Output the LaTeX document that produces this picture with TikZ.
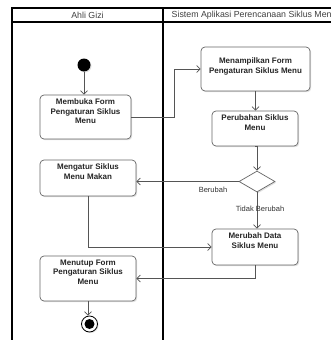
\documentclass[tikz,border=0pt]{standalone}
\usepackage{fontspec}
\setmainfont{Liberation Sans}
\usetikzlibrary{arrows.meta,shapes.geometric,shadows}
\definecolor{edge}{HTML}{555555}
\definecolor{boxline}{HTML}{666666}
\begin{document}
\begin{tikzpicture}[x=1pt,y=-1pt,
  lane/.style={draw=black,line width=1.1pt},
  actbox/.style={draw=boxline,line width=0.7pt,rounded corners=4pt,fill=white,
    drop shadow={opacity=0.25,shadow xshift=1.2pt,shadow yshift=-1.2pt},inner sep=0pt},
  acttxt/.style={anchor=north,align=center,inner sep=0pt,
    font=\bfseries\fontsize{8}{9.5}\selectfont,text=black!85},
  hdr/.style={font=\fontsize{8.8}{10}\selectfont,text=black!75,inner sep=0pt},
  lbl/.style={font=\fontsize{7.5}{9}\selectfont,text=black!80,inner sep=0pt},
  arr/.style={draw=edge,line width=0.7pt,-{Straight Barb[length=3.5pt,width=7pt]}},
  dec/.style={diamond,draw=boxline,line width=0.7pt,fill=white,minimum width=36pt,minimum height=21pt,inner sep=0pt,aspect=1.7,
    drop shadow={opacity=0.25,shadow xshift=1.2pt,shadow yshift=-1.2pt}}]
\useasboundingbox (0,0) rectangle (331,340);
\clip (0,0) rectangle (331,340);
\fill[white] (0,0) rectangle (331,340);
% swimlanes
\draw[lane] (12,345) -- (12,8) -- (340,8);
\draw[lane] (12,22) -- (340,22);
\draw[lane] (163,8) -- (163,345);
\node[hdr] (h1) at (87.5,15.5) {Ahli Gizi};
\node[hdr,anchor=west] (h2) at (171.5,15.5) {Sistem Aplikasi Perencanaan Siklus Menu};
% start
\node[circle,fill=black,minimum size=13pt,inner sep=0pt,drop shadow={opacity=0.25,shadow xshift=1pt,shadow yshift=-1pt}] (start) at (84,65) {};
% boxes
\node[actbox,minimum width=91pt,minimum height=44pt] (b1) at (85.5,117) {};
\node[acttxt] (t1) at ([yshift=-4pt]b1.north) {Membuka Form\\Pengaturan Siklus\\Menu};
\node[actbox,minimum width=109pt,minimum height=44pt] (b2) at (255.5,69) {};
\node[acttxt] (t2) at ([yshift=-11pt]b2.north) {Menampilkan Form\\Pengaturan Siklus Menu};
\node[actbox,minimum width=86pt,minimum height=35pt] (b3) at (255,128.5) {};
\node[acttxt] (t3) at ([yshift=-4pt]b3.north) {Perubahan Siklus\\Menu};
\node[dec] (d) at (257,181.5) {};
\node[actbox,minimum width=96pt,minimum height=36pt] (b4) at (88,178) {};
\node[acttxt] (t4) at ([yshift=-4pt]b4.north) {Mengatur Siklus\\Menu Makan};
\node[actbox,minimum width=86pt,minimum height=36pt] (b5) at (255,247) {};
\node[acttxt] (t5) at ([yshift=-4pt]b5.north) {Merubah Data\\Siklus Menu};
\node[actbox,minimum width=96pt,minimum height=45pt] (b6) at (88,278.5) {};
\node[acttxt] (t6) at ([yshift=-4pt]b6.north) {Menutup Form\\Pengaturan Siklus\\Menu};
% end
\node[circle,draw=black,line width=0.8pt,fill=white,minimum size=16pt,inner sep=0pt,drop shadow={opacity=0.25,shadow xshift=1pt,shadow yshift=-1pt}] (end) at (89.5,324) {};
\node[circle,fill=black,minimum size=10pt,inner sep=0pt] (endin) at (end) {};
% connectors
\draw[arr] (start) -- (start |- b1.north);
\draw[arr] (b1.east) -- ++(43,0) |- (b2.west);
\draw[arr] (b2.south) -- (b2.south |- b3.north);
\draw[arr] (b3.south) -- (b3.south -| d.north) -- (d.north);
\draw[arr] (d.west) -- (d.west -| b4.east);
\draw[arr] (d.south) -- (d.south |- b5.north);
\draw[arr] (b4.south) |- (b5.west);
\draw[arr] (b5.south) |- (b6.east);
\draw[arr] (b6.south) -- (b6.south |- end.north);
% labels
\node[lbl] (l1) at (213,190) {Berubah};
\node[lbl] (l2) at (260,209) {Tidak Berubah};
\end{tikzpicture}
\end{document}
